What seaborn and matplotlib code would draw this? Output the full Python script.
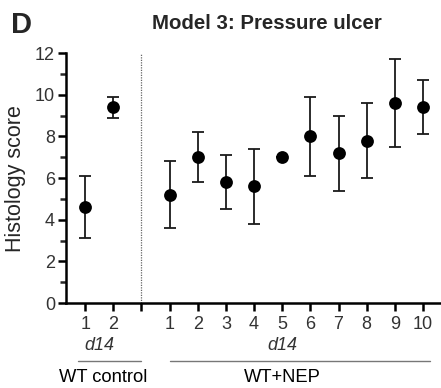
import numpy as np
import pandas as pd
import seaborn as sns
import matplotlib.pyplot as plt
import matplotlib.transforms as mtransforms

# values
groups = ['WT control'] * 2 + ['WT+NEP'] * 10
animal = [1, 2, 1, 2, 3, 4, 5, 6, 7, 8, 9, 10]
score = [4.6, 9.4, 5.2, 7.0, 5.8, 5.6, 7.0, 8.0, 7.2, 7.8, 9.6, 9.4]
err_low = [3.1, 8.9, 3.6, 5.8, 4.5, 3.8, 7.0, 6.1, 5.4, 6.0, 7.5, 8.1]
err_high = [6.1, 9.9, 6.8, 8.2, 7.1, 7.4, 7.0, 9.9, 9.0, 9.6, 11.7, 10.7]

# x slot for each point, one empty slot between the groups
xpos = [0, 1] + list(range(3, 13))
sep_x = 2

df = pd.DataFrame({'group': groups, 'animal': animal, 'score': score,
                   'lo': err_low, 'hi': err_high, 'x': xpos})

sns.set_style("ticks")
plt.rcParams['font.family'] = ['Liberation Sans', 'DejaVu Sans']

fig = plt.figure(figsize=(4.41, 3.88), dpi=100)
ax = fig.add_axes([0.1497, 0.219, 0.8503, 0.644])

yerr = np.vstack([df['score'] - df['lo'], df['hi'] - df['score']])
ax.errorbar(df['x'], df['score'], yerr=yerr, fmt='none', ecolor='#1a1a1a',
            elinewidth=1.3, capsize=4, capthick=1.3, zorder=2)
sns.scatterplot(data=df, x='x', y='score', color='black', s=85,
                edgecolor='black', linewidth=0, ax=ax, zorder=3, legend=False)

ax.axvline(sep_x, ymin=0, ymax=1, color='#666666', linestyle=(0, (1, 1)),
           linewidth=0.9, zorder=1)

ax.set_xlim(-0.68, 12.64)
ax.set_ylim(0, 12)
ax.set_yticks(np.arange(0, 13, 2))
ax.set_yticks(np.arange(1, 12, 2), minor=True)
ax.set_xticks(xpos + [sep_x])
ax.set_xticklabels([str(a) for a in animal] + [''])
ax.set_xlabel('')
ax.set_ylabel('Histology score', fontsize=15.5)
ax.yaxis.set_label_coords(-0.107, 0.5)

for s in ['top', 'right']:
    ax.spines[s].set_visible(False)
for s in ['left', 'bottom']:
    ax.spines[s].set_linewidth(1.8)
    ax.spines[s].set_color('black')
ax.tick_params(axis='both', which='major', length=6, width=1.8, labelsize=13,
               colors='black', labelcolor='#333333')
ax.tick_params(axis='y', which='minor', length=4, width=1.8)
ax.tick_params(axis='x', pad=3)
ax.tick_params(axis='y', pad=2)

trans = mtransforms.blended_transform_factory(ax.transData, ax.transAxes)
for name, sub in df.groupby('group', sort=False):
    xs = sub['x'].tolist()
    if name == 'WT control':
        mid = (xs[0] + xs[-1]) / 2
        x0, x1 = xs[0] - 0.25, sep_x
        lab_x = mid + 0.15
    else:
        mid = xs[4]
        x0, x1 = xs[0], xs[-1] + 0.25
        lab_x = mid
    ax.text(mid, -0.168, 'd14', transform=trans, ha='center', va='center',
            fontsize=13, style='italic', color='#333333')
    ax.plot([x0, x1], [-0.232, -0.232], transform=trans, color='#777777',
            linewidth=1.0, clip_on=False)
    ax.text(lab_x, -0.298, name, transform=trans, ha='center',
            va='center', fontsize=13.2, color='black')

fig.text(0.605, 0.94, 'Model 3: Pressure ulcer', ha='center', va='center',
         fontsize=14.7, fontweight='bold')
fig.text(0.024, 0.935, 'D', ha='left', va='center', fontsize=21,
         fontweight='bold')

fig.savefig('out.png', dpi=100)
